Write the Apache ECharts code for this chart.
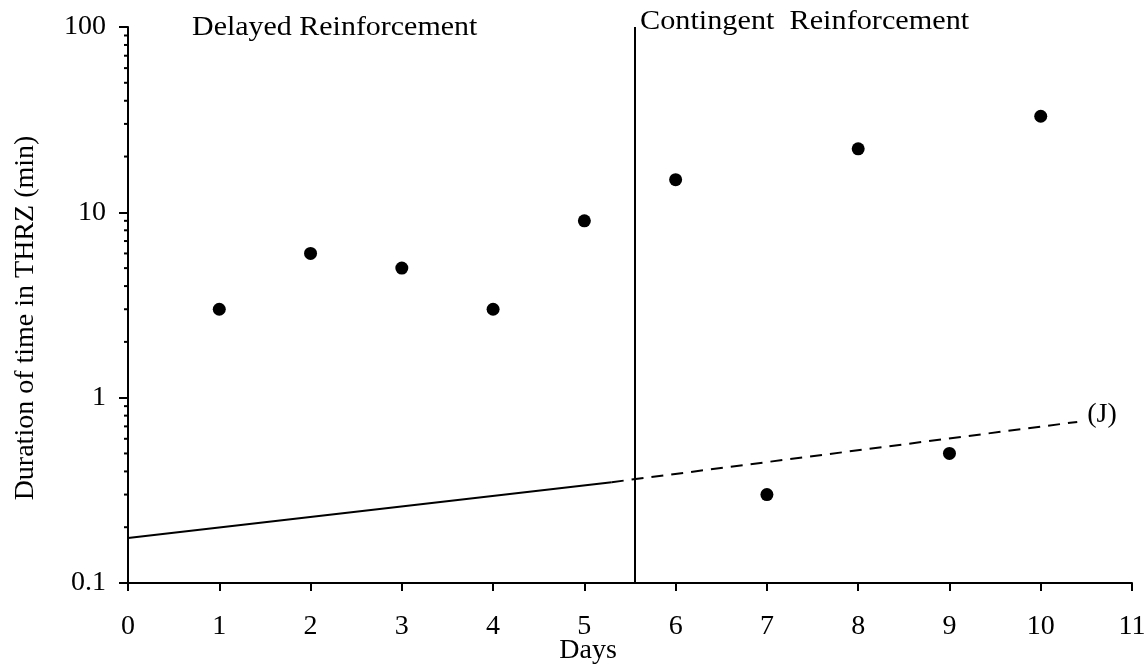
<!DOCTYPE html>
<html><head><meta charset="utf-8">
<script src="https://cdn.jsdelivr.net/npm/echarts@6/dist/echarts.min.js"></script>
<style>html,body{margin:0;padding:0;background:#fff}#c{width:1146px;height:668px}</style>
</head><body><div id="c"></div>
<script>
const days = [1,2,3,4,5,6,7,8,9,10];
const durations = [3,6,5,3,9,15,0.3,22,0.5,33];
const trendSolid = [[0,0.175],[5.3,0.35]];
const trendDashed = [[5.3,0.35],[10.4,0.74]];
const phaseChangeDay = 5.55;
const yTicks = [0.1,1,10,100];
const minorTickValues = [];
[0.1,1,10].forEach(d=>{for(let k=2;k<=9;k++) minorTickValues.push(+(d*k).toFixed(3));});

const font = 'Liberation Serif';
const fs = 28;
const chart = echarts.init(document.getElementById('c'));
chart.setOption({
  animation:false,
  grid:{left:128,right:14,top:27,bottom:85,containLabel:false,outerBoundsMode:'none'},
  xAxis:{type:'value',min:0,max:11,interval:1,
    name:'Days',nameLocation:'middle',nameGap:54,nameMoveOverlap:false,
    nameTextStyle:{fontFamily:font,fontSize:fs,color:'#000',padding:[0,84,0,0],verticalAlign:'top'},
    axisLine:{lineStyle:{color:'#000',width:2}},
    axisTick:{show:true,length:8,lineStyle:{color:'#000',width:2}},
    axisLabel:{fontFamily:font,fontSize:fs,color:'#000',margin:30},
    splitLine:{show:false}},
  yAxis:{type:'log',logBase:10,min:0.1,max:100,
    name:'Duration of time in THRZ (min)',nameLocation:'middle',nameGap:88,nameRotate:90,nameMoveOverlap:false,
    nameTextStyle:{fontFamily:font,fontSize:fs,color:'#000',padding:[0,26,0,0]},
    axisLine:{show:true,lineStyle:{color:'#000',width:2}},
    axisTick:{show:true,length:9,lineStyle:{color:'#000',width:2}},
    axisLabel:{fontFamily:font,fontSize:fs,color:'#000',margin:22,
      formatter:v=>{const t=yTicks.find(y=>Math.abs(y-v)/y<1e-6);return t===undefined?'':String(t);}},
    splitLine:{show:false}},
  graphic:[
    {type:'text',x:192,y:28,scaleX:1.07,style:{text:'Delayed Reinforcement',font:fs+'px "Liberation Serif"',fill:'#000',textVerticalAlign:'middle'}},
    {type:'text',x:640,y:22,scaleX:1.08,style:{text:'Contingent  Reinforcement',font:fs+'px "Liberation Serif"',fill:'#000',textVerticalAlign:'middle'}}
  ],
  series:[
    {type:'custom',silent:true,data:minorTickValues.map(v=>[0,v]),
      renderItem:(params,api)=>{const p=api.coord([0,api.value(1)]);
        return {type:'line',shape:{x1:p[0]-4,y1:p[1],x2:p[0],y2:p[1]},style:{stroke:'#000',lineWidth:2}};},
      clip:false,z:5},
    {type:'line',data:trendSolid,symbol:'none',silent:true,lineStyle:{color:'#000',width:2},
      markLine:{silent:true,symbol:'none',label:{show:false},lineStyle:{color:'#000',width:2,type:'solid'},
        data:[{xAxis:phaseChangeDay}]}},
    {type:'line',data:trendDashed,symbol:'none',silent:true,lineStyle:{color:'#000',width:2,type:[12,8]},
      endLabel:{show:true,formatter:'(J)',fontFamily:font,fontSize:fs,color:'#000',distance:10,offset:[0,-7]}},
    {type:'scatter',data:days.map((d,i)=>[d,durations[i]]),symbol:'circle',symbolSize:13,silent:true,
      itemStyle:{color:'#000',opacity:1},emphasis:{disabled:true}}
  ]
});
</script></body></html>
